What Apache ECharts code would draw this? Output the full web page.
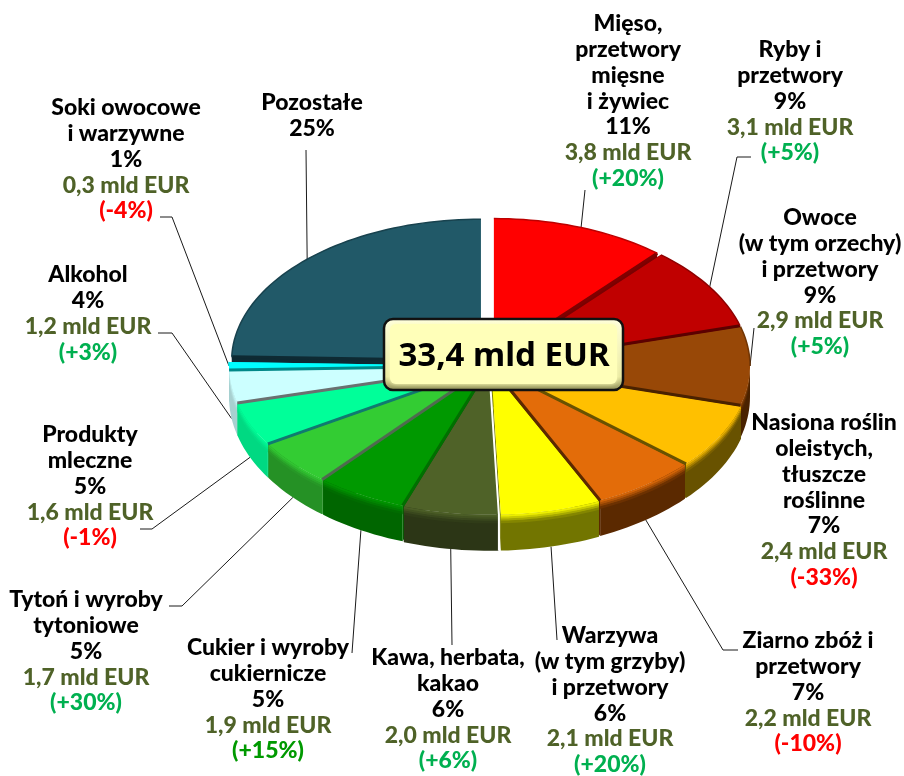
<!DOCTYPE html>
<html>
<head>
<meta charset="utf-8">
<title>33,4 mld EUR</title>
<script src="https://cdn.jsdelivr.net/npm/echarts@6/dist/echarts.min.js"></script>
<style>
  html, body { margin: 0; padding: 0; background: #fff; }
  #chart { width: 904px; height: 776px; }
</style>
</head>
<body>
<div id="chart"></div>
<script>
const categories = [
  ["Mięso,", "przetwory", "mięsne", "i żywiec"],
  ["Ryby i", "przetwory"],
  ["Owoce", "(w tym orzechy)", "i przetwory"],
  ["Nasiona roślin", "oleistych,", "tłuszcze", "roślinne"],
  ["Ziarno zbóż i", "przetwory"],
  ["Warzywa", "(w tym grzyby)", "i przetwory"],
  ["Kawa, herbata,", "kakao"],
  ["Cukier i wyroby", "cukiernicze"],
  ["Tytoń i wyroby", "tytoniowe"],
  ["Produkty", "mleczne"],
  ["Alkohol"],
  ["Soki owocowe", "i warzywne"],
  ["Pozostałe"],
];
const values = [3.8, 3.1, 2.9, 2.4, 2.2, 2.1, 2.0, 1.9, 1.7, 1.6, 1.2, 0.3, 8.2];
const shares = ["11%", "9%", "9%", "7%", "7%", "6%", "6%", "5%", "5%", "5%", "4%", "1%", "25%"];
const changes = ["(+20%)", "(+5%)", "(+5%)", "(-33%)", "(-10%)", "(+20%)", "(+6%)", "(+15%)", "(+30%)", "(-1%)", "(+3%)", "(-4%)", ""];
const totalLabel = "33,4 mld EUR";

// kolory: wierzch, bok, linia miedzy wycinkami
const topColors = ["#ff0000", "#c00000", "#984807", "#ffc000", "#e36c09", "#ffff00", "#4f6228", "#009900", "#33cc33", "#00ff99", "#ccffff", "#00ffff", "#215968"];
const sideColors = ["#7a0000", "#5c0000", "#4a2200", "#685200", "#5b2900", "#727500", "#2c3616", "#006600", "#259125", "#00d982", "#a8d0d0", "#00dcdc", "#0e2a33"];
const edgeColors = ["#800000", "#5c0000", "#4a2200", "#685200", "#5b2900", null, "#ffffff", "#007000", "#4f6b4f", "#107a70", "#6a7070", "#008888", "#0e2a33"];
const changeColors = ["#00b050", "#00b050", "#00b050", "#ff0000", "#ff0000", "#00b050", "#00b050", "#009900", "#00b050", "#ff0000", "#00b050", "#ff0000", "#000"];

// uklad
const cx = 490, cy = 366, rx = 257, ry = 146;
const explode = [11, 3, 3, 4, 4, 5, 5, 4, 4, 4, 4, 4, 13];
const radiusScale = [0.97, 1, 1, 1, 1, 1, 1, 1, 1, 1, 1, 1, 0.97];
const labelX = [628, 790, 820, 824, 808, 610, 448, 268, 86, 90, 88, 126, 312];
const labelY = [24, 50, 218, 423, 641, 636, 658, 648, 600, 435, 275, 108, 103];
const lineH = 25.7;
// reszta linii odniesienia (poczatek liczony z polowy wycinka)
const leaders = [
  [[585, 190]],
  [[737, 157], [751, 157]],
  [[754, 328]],
  null,
  [[723, 650], [738, 650]],
  [[557, 640]],
  [[452, 645]],
  [[352, 653]],
  [[182, 606], [169, 606]],
  [[152, 529], [140, 529]],
  [[172, 333], [158, 333]],
  [[172, 217], [160, 217]],
  [[306, 150]],
];

const total = values.reduce((a, b) => a + b, 0);
const starts = [];
values.reduce((sum, v, i) => {
  starts[i] = (sum / total) * 2 * Math.PI;
  return sum + v;
}, 0);
const ends = values.map((v, i) => starts[i] + (v / total) * 2 * Math.PI);
const mids = values.map((v, i) => (starts[i] + ends[i]) / 2);

const sliceCenter = (i) => [
  cx + explode[i] * Math.sin(mids[i]),
  cy - explode[i] * Math.cos(mids[i]) * 0.56,
];
const rimPoint = (i, a) => {
  const c = sliceCenter(i);
  return [c[0] + rx * radiusScale[i] * Math.sin(a), c[1] - ry * radiusScale[i] * Math.cos(a)];
};
const wallDepth = (a) => 31 + 5 * Math.max(0, -Math.cos(a));

const arcPoints = (i, a0, a1) => {
  const pts = [];
  const n = Math.max(2, Math.ceil((a1 - a0) / 0.03));
  for (let k = 0; k <= n; k++) pts.push(rimPoint(i, a0 + ((a1 - a0) * k) / n));
  return pts;
};

const mix = (c1, c2, t) => {
  const p = (c, s) => parseInt(c.slice(s, s + 2), 16);
  const ch = (s) => Math.round(p(c1, s) + (p(c2, s) - p(c1, s)) * t);
  return "rgb(" + ch(1) + "," + ch(3) + "," + ch(5) + ")";
};
const down = (p, d) => [p[0], p[1] + d];

const renderSlice = (params, api) => {
  const i = api.value(0);
  const c = sliceCenter(i);
  const children = [];
  const a0 = starts[i], a1 = ends[i];

  // sciany promieniowe
  [a0, a1].forEach((a) => {
    const r = rimPoint(i, a);
    const d = wallDepth(a);
    children.push({
      type: "polygon",
      shape: { points: [c, r, down(r, d), down(c, d)] },
      style: { fill: sideColors[i] },
    });
  });

  // bok zewnetrzny tylko z przodu
  const f0 = Math.max(a0, Math.PI / 2);
  const f1 = Math.min(a1, (3 * Math.PI) / 2);
  if (f1 > f0) {
    const arc = arcPoints(i, f0, f1);
    const n = arc.length - 1;
    const angleAt = (k) => f0 + ((f1 - f0) * k) / n;
    children.push({
      type: "polygon",
      shape: {
        points: arc.concat(arc.map((p, k) => down(p, wallDepth(angleAt(k)))).reverse()),
      },
      style: { fill: sideColors[i] },
    });
    // miekkie przejscie wierzch-bok
    const bands = [0, 2, 4, 6, 8];
    for (let b = 0; b < bands.length - 1; b++) {
      const upper = arc.map((p) => down(p, bands[b]));
      const lower = arc.map((p) => down(p, bands[b + 1] + 0.6));
      children.push({
        type: "polygon",
        shape: { points: upper.concat(lower.reverse()) },
        style: { fill: mix(topColors[i], sideColors[i], (b + 0.5) / (bands.length - 1)) },
      });
    }
  }

  // wierzch
  children.push({
    type: "polygon",
    shape: { points: [c].concat(arcPoints(i, a0, a1)) },
    style: { fill: topColors[i] },
  });
  return { type: "group", children };
};

// linie miedzy wycinkami i ciemniejsza krawedz z tylu
const renderEdge = (params, api) => {
  const i = api.value(0);
  const children = [];
  const a = mids[i] < Math.PI ? ends[i] : starts[i];
  if (edgeColors[i]) {
    const r = rimPoint(i, a);
    const isWhite = edgeColors[i] === "#ffffff";
    children.push({
      type: "polyline",
      shape: { points: isWhite ? [sliceCenter(i), r, down(r, wallDepth(a))] : [sliceCenter(i), r] },
      style: { stroke: edgeColors[i], lineWidth: isWhite ? 2 : 3, fill: null },
    });
  }
  const b0 = starts[i], b1 = ends[i];
  const backParts = [[b0, Math.min(b1, Math.PI / 2)], [Math.max(b0, (3 * Math.PI) / 2), b1]];
  backParts.forEach((part) => {
    if (part[1] > part[0]) {
      children.push({
        type: "polyline",
        shape: { points: arcPoints(i, part[0], part[1]) },
        style: { stroke: mix(topColors[i], sideColors[i], 0.5), lineWidth: 1.5, fill: null },
      });
    }
  });
  return { type: "group", children };
};

const valueLabel = (v) => v.toFixed(1).replace(".", ",") + " mld EUR";
const labelFont = '900 23px Lato, "Noto Sans", sans-serif';

const renderLabel = (params, api) => {
  const i = api.value(0);
  const lines = categories[i].map((t) => [t, "#000"]);
  lines.push([shares[i], "#000"]);
  if (changes[i]) {
    lines.push([valueLabel(values[i]), "#4f6228"]);
    lines.push([changes[i], changeColors[i]]);
  }
  const children = lines.map((line, k) => ({
    type: "text",
    x: labelX[i],
    y: labelY[i] + k * lineH,
    style: {
      text: line[0],
      fill: line[1],
      font: labelFont,
      align: "center",
      verticalAlign: "middle",
    },
  }));
  if (leaders[i]) {
    const a = mids[i];
    const rim = rimPoint(i, a);
    const isFront = Math.cos(a) < -0.001;
    const start = isFront ? [rim[0], rim[1] + wallDepth(a)] : rim;
    children.push({
      type: "polyline",
      shape: { points: [start].concat(leaders[i]) },
      style: { stroke: "#1a1a1a", lineWidth: 1, fill: null },
    });
  }
  return { type: "group", children };
};

// od tylu do przodu
const drawOrder = values
  .map((v, i) => i)
  .sort((a, b) => Math.cos(mids[b]) - Math.cos(mids[a]));

const chart = echarts.init(document.getElementById("chart"), null, { renderer: "canvas" });
chart.setOption({
  animation: false,
  backgroundColor: "#fff",
  tooltip: { show: false },
  series: [
    {
      type: "custom",
      coordinateSystem: "none",
      silent: true,
      z: 2,
      renderItem: renderLabel,
      data: values.map((v, i) => [i, v]),
    },
    {
      type: "custom",
      coordinateSystem: "none",
      silent: true,
      z: 3,
      renderItem: renderSlice,
      data: drawOrder.map((i) => [i, values[i]]),
    },
    {
      type: "custom",
      coordinateSystem: "none",
      silent: true,
      z: 4,
      renderItem: renderEdge,
      data: values.map((v, i) => [i, v]),
    },
  ],
  graphic: [
    {
      type: "rect",
      z: 10,
      shape: { x: 384, y: 319, width: 239, height: 71, r: 9 },
      style: {
        fill: new echarts.graphic.LinearGradient(0, 0, 0, 1, [
          { offset: 0, color: "#ffffe0" },
          { offset: 0.8, color: "#e8e8a0" },
          { offset: 1, color: "#85854f" },
        ]),
        stroke: "#111",
        lineWidth: 2.5,
      },
    },
    {
      type: "rect",
      z: 11,
      shape: { x: 390, y: 324, width: 227, height: 60, r: 6 },
      style: { fill: "#ffffb9", shadowBlur: 4, shadowColor: "#ffffb9" },
    },
    {
      type: "text",
      z: 12,
      x: 504,
      y: 357,
      style: {
        text: totalLabel,
        fill: "#000",
        font: 'bold 33px "Noto Sans", sans-serif',
        align: "center",
        verticalAlign: "middle",
      },
    },
  ],
});
</script>
</body>
</html>
